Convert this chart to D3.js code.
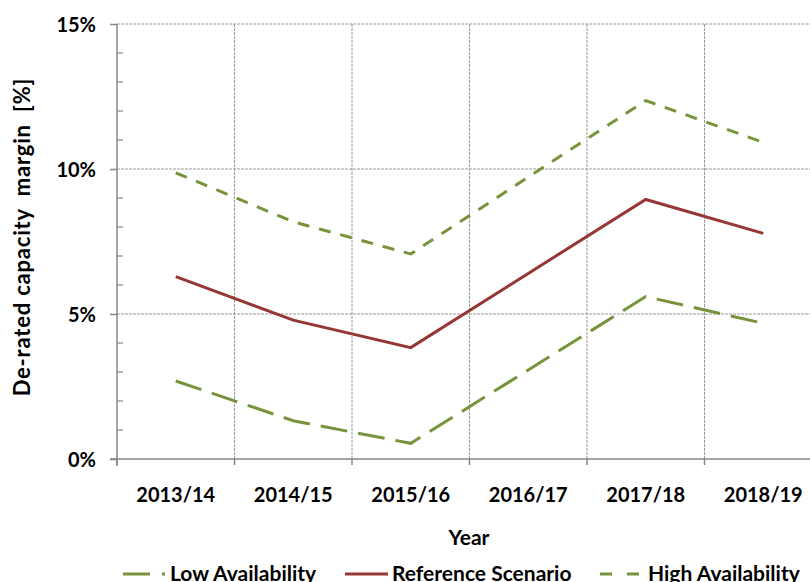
<!DOCTYPE html>
<html>
<head>
<meta charset="utf-8">
<script src="https://cdn.jsdelivr.net/npm/d3@7"></script>
<style>
  html, body { margin: 0; padding: 0; background: #fff; }
  svg { display: block; }
  text { font-family: Lato, "Open Sans", sans-serif; font-weight: bold; fill: #000; }
</style>
</head>
<body>
<svg id="chart" width="810" height="582"></svg>
<script>
const categories = ["2013/14", "2014/15", "2015/16", "2016/17", "2017/18", "2018/19"];
const lowAvailability = [2.69, 1.32, 0.54, 3.07, 5.60, 4.68];
const referenceScenario = [6.29, 4.79, 3.84, 6.40, 8.95, 7.78];
const highAvailability = [9.87, 8.18, 7.07, 9.72, 12.36, 10.92];
const yTicks = [0, 5, 10, 15];
const seriesNames = ["Low Availability", "Reference Scenario", "High Availability"];

const svg = d3.select("#chart");
const plotLeft = 117, plotTop = 24, plotBottom = 459, catW = 117.5;
const x = d3.scaleBand().domain(categories).range([plotLeft, plotLeft + catW * categories.length]);
const y = d3.scaleLinear().domain([0, 15]).range([plotBottom, plotTop]);

const axisColor = "#868686";
const gridColor = "#9a9a9a";

// horizontal gridlines
svg.append("g").selectAll("line").data(yTicks.filter(d => d > 0)).join("line")
  .attr("x1", plotLeft).attr("x2", 810)
  .attr("y1", d => y(d)).attr("y2", d => y(d))
  .attr("stroke", gridColor).attr("stroke-width", 1).attr("stroke-dasharray", "3,1");

// vertical gridlines at category boundaries
svg.append("g").selectAll("line").data(categories.slice(1)).join("line")
  .attr("x1", d => x(d)).attr("x2", d => x(d))
  .attr("y1", plotTop).attr("y2", plotBottom)
  .attr("stroke", gridColor).attr("stroke-width", 1).attr("stroke-dasharray", "3,1");

// y axis
const yAxis = d3.axisLeft(y).tickValues(yTicks).tickFormat(d => d + "%").tickSize(7).tickPadding(14);
const gy = svg.append("g").attr("transform", `translate(${plotLeft},0)`).call(yAxis);
gy.select(".domain").attr("stroke", axisColor).attr("stroke-width", 1.5).attr("d", `M0,${plotTop}V${plotBottom + 7}`);
gy.selectAll(".tick line").attr("stroke", axisColor).attr("stroke-width", 1.5);
gy.selectAll(".tick text").style("font-size", "20px").attr("dy", "0.36em");
// minor ticks
gy.append("g").selectAll("line").data(d3.range(0, 16).filter(d => d % 5 !== 0)).join("line")
  .attr("x1", 0).attr("x2", 6).attr("y1", d => y(d)).attr("y2", d => y(d))
  .attr("stroke", axisColor).attr("stroke-width", 1.2);

// x axis
const gx = svg.append("g").attr("transform", `translate(0,${plotBottom})`);
gx.append("line").attr("x1", plotLeft - 7).attr("x2", 810).attr("y1", 0).attr("y2", 0)
  .attr("stroke", axisColor).attr("stroke-width", 1.5);
gx.selectAll("line.tk").data(categories).join("line").attr("class", "tk")
  .attr("x1", d => x(d)).attr("x2", d => x(d)).attr("y1", 0).attr("y2", 6)
  .attr("stroke", axisColor).attr("stroke-width", 1.5);
gx.selectAll("text").data(categories).join("text")
  .attr("x", d => x(d) + x.bandwidth() / 2).attr("y", 43)
  .attr("text-anchor", "middle").style("font-size", "20px").text(d => d);

// axis titles
svg.append("text").attr("x", 469).attr("y", 545).attr("text-anchor", "middle")
  .style("font-size", "21px").text("Year");
svg.append("text").attr("transform", "translate(30,237) rotate(-90)").attr("text-anchor", "middle")
  .style("font-size", "22px").style("letter-spacing", "0.8px").style("white-space", "pre")
  .text("De-rated capacity  margin  [%]");

// series
const green = "#77933C", red = "#953735";
const series = [
  { name: seriesNames[0], values: lowAvailability, color: green, dash: "27,11" },
  { name: seriesNames[1], values: referenceScenario, color: red, dash: null },
  { name: seriesNames[2], values: highAvailability, color: green, dash: "12,10" }
];
const line = d3.line()
  .x((d, i) => x(categories[i]) + x.bandwidth() / 2)
  .y(d => y(d));
svg.append("g").selectAll("path").data(series).join("path")
  .attr("d", d => line(d.values))
  .attr("fill", "none").attr("stroke", d => d.color).attr("stroke-width", 3)
  .attr("stroke-dasharray", d => d.dash).attr("stroke-linejoin", "miter");

// legend
const legendItems = [
  { s: series[0], x1: 123, x2: 165, tx: 170, dash: "27,12" },
  { s: series[1], x1: 345, x2: 388, tx: 392, dash: null },
  { s: series[2], x1: 600, x2: 640, tx: 648, dash: "12,15" }
];
const lg = svg.append("g");
legendItems.forEach(it => {
  lg.append("line").attr("x1", it.x1).attr("x2", it.x2).attr("y1", 574).attr("y2", 574)
    .attr("stroke", it.s.color).attr("stroke-width", 3).attr("stroke-dasharray", it.dash);
  lg.append("text").attr("x", it.tx).attr("y", 581).style("font-size", "21px").text(it.s.name);
});
</script>
</body>
</html>
